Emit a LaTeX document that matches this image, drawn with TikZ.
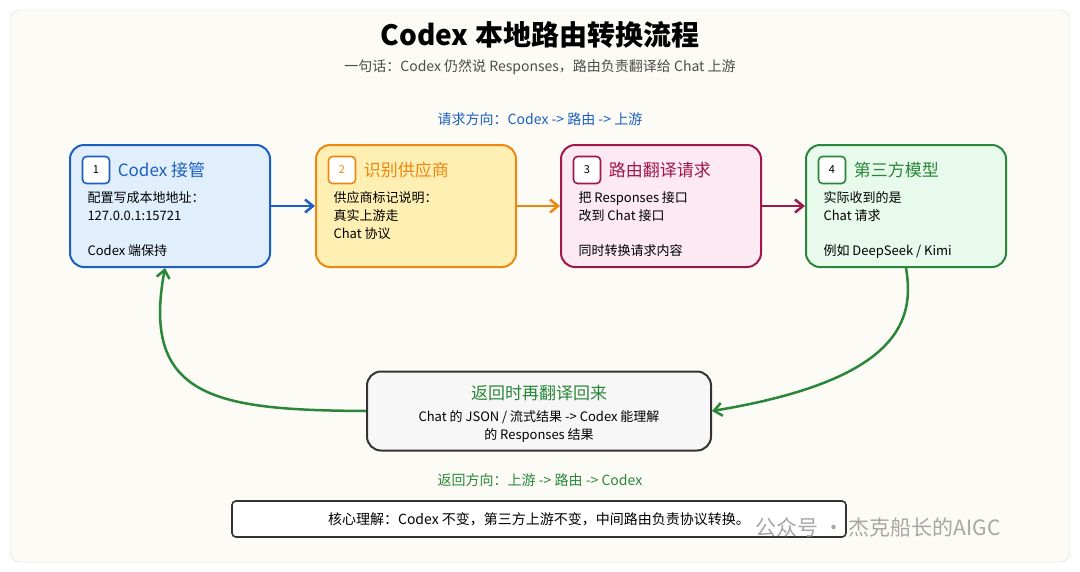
\documentclass[tikz,border=0pt]{standalone}
\usepackage{fontspec}
\setmainfont{Noto Sans CJK SC}
\usetikzlibrary{positioning,arrows.meta}
\definecolor{cblue}{HTML}{1C5FC0}
\definecolor{fblue}{HTML}{E1EEFC}
\definecolor{corange}{HTML}{EE870F}
\definecolor{forange}{HTML}{FFEFB2}
\definecolor{cred}{HTML}{A0174C}
\definecolor{fred}{HTML}{FCE9F2}
\definecolor{cgreen}{HTML}{2A873A}
\definecolor{fgreen}{HTML}{E7FAEB}
\definecolor{panel}{HTML}{FCFBF5}
\begin{document}
\begin{tikzpicture}[
	x=1pt,y=-1pt,
	ar/.style={-{Straight Barb[length=8pt,width=13pt]},line width=2.5pt},
	stage/.style={
	  draw,
	  line width=2pt,
	  rounded corners=14pt,
	  minimum width=200pt,
	  minimum height=122pt
	  },
	badge/.style={
	  draw,
	  fill=white,
	  line width=1.6pt,
	  rounded corners=4pt,
	  minimum size=27pt,
	  font=\fontsize{11}{11}\selectfont
	  },
	head/.style={anchor=west,font=\fontsize{17}{19}\selectfont},
	body/.style={anchor=north west,align=left,font=\fontsize{13}{18}\selectfont}
	]
		\fill[white] (0,0) rectangle (1080,571);
		\draw[black!15,fill=panel,rounded corners=10pt] (10,10) rectangle (1070,562);

		\node[font=\fontsize{28}{30}\selectfont\bfseries] (title) at (540,35) {Codex 本地路由转换流程};
		\node[black!70,font=\fontsize{14}{16}\selectfont] (sub) at (540,67)
			{一句话：Codex 仍然说 Responses，路由负责翻译给 Chat 上游};
		\node[cblue,font=\fontsize{14}{16}\selectfont] (req) at (540,119)
			{请求方向：Codex -> 路由 -> 上游};

		% four steps
		\node[stage,draw=cblue,fill=fblue] (box1) at (170,206) {};
		\node[stage,draw=corange,fill=forange] (box2) at (416,206) {};
		\node[stage,draw=cred,fill=fred] (box3) at (661,206) {};
		\node[stage,draw=cgreen,fill=fgreen] (box4) at (906,206) {};

		\node[badge,draw=cblue] (b1) at (96,170) {1};
		\node[head,cblue,right=4pt of b1] {Codex 接管};
		\node[body] at (84,188) {配置写成本地地址：\\127.0.0.1:15721\\[17pt]Codex 端保持};

		\node[badge,draw=corange,text=corange] (b2) at (342,170) {2};
		\node[head,corange,right=4pt of b2] {识别供应商};
		\node[body] at (330,188) {供应商标记说明：\\真实上游走\\Chat 协议};

		\node[badge,draw=cred] (b3) at (587,170) {3};
		\node[head,cred,right=4pt of b3] {路由翻译请求};
		\node[body] at (575,188) {把 Responses 接口\\改到 Chat 接口\\[17pt]同时转换请求内容};

		\node[badge,draw=cgreen] (b4) at (832,170) {4};
		\node[head,cgreen,right=4pt of b4] {第三方模型};
		\node[body] at (820,188) {实际收到的是\\Chat 请求\\[17pt]例如 DeepSeek / Kimi};

		% return path
		\node[stage,draw=black!80,fill=black!3,minimum width=344pt,minimum height=79pt] (back) at (539,411) {};
		\node[cgreen,font=\fontsize{17}{19}\selectfont] at (539,393) {返回时再翻译回来};
		\node[align=center,font=\fontsize{13}{18}\selectfont] at (539,426)
			{Chat 的 JSON / 流式结果 -> Codex 能理解\\的 Responses 结果};

		\node[cgreen,font=\fontsize{14}{16}\selectfont] (ret) at (540,480)
			{返回方向：上游 -> 路由 -> Codex};

		\node[draw=black!80,fill=white,line width=1.6pt,rounded corners=4pt,
			minimum width=614pt,minimum height=36pt,font=\fontsize{14}{16}\selectfont] (note) at (539,519)
			{核心理解：Codex 不变，第三方上游不变，中间路由负责协议转换。};
		\node[black!35,font=\fontsize{21}{23}\selectfont] (mark) at (878,528) {公众号 · 杰克船长的AIGC};

		\draw[ar,cblue] (box1) -- (box2);
		\draw[ar,corange] (box2) -- (box3);
		\draw[ar,cred] (box3) -- (box4);
		\draw[ar,cgreen] (box4.south) .. controls (915,320) and (900,380) .. (back.east);
		\draw[ar,cgreen] (back.west) .. controls (220,410) and (140,400) .. (box1.south -| 165,0);
	\end{tikzpicture}
\end{document}
